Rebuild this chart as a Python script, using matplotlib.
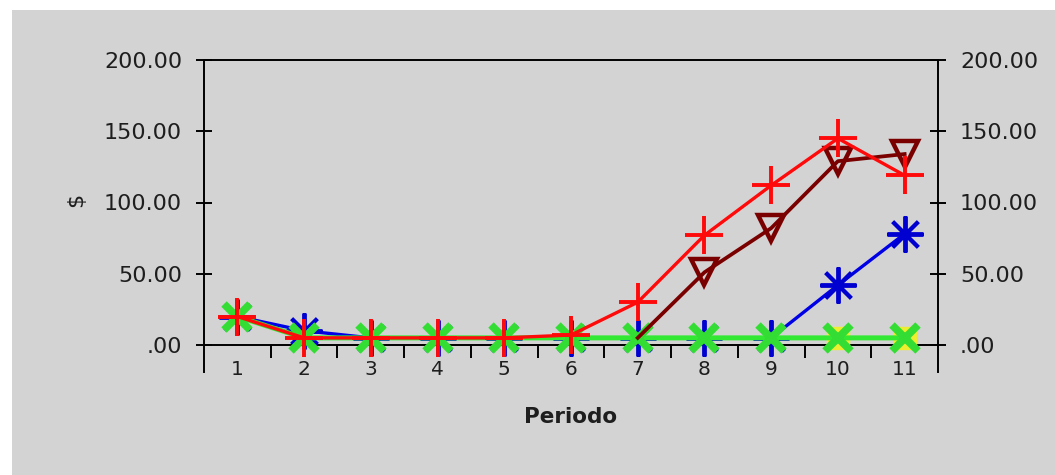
import numpy as np
import matplotlib
matplotlib.use("Agg")
import matplotlib.pyplot as plt
from matplotlib.patches import Rectangle

# ---- data ----
periods = [1, 2, 3, 4, 5, 6, 7, 8, 9, 10, 11]
serie_blue = [20, 10, 5, 5, 5, 5, 5, 5, 5, 42, 78]
serie_maroon = [np.nan, np.nan, np.nan, np.nan, np.nan, np.nan, 5, 51, 82, 129, 134]
serie_red = [20, 5, 5, 5, 5, 7, 30, 77, 112, 145, 119]
serie_lime = [20, 5, 5, 5, 5, 5, 5, 5, 5, 5, 5]
serie_yellow = [20, 5, 5, 5, 5, 5, 5, 5, 5, 5, 5]
y_ticks = [0, 50, 100, 150, 200]
y_tick_labels = [".00", "50.00", "100.00", "150.00", "200.00"]
x_label = "Periodo"
y_label = "$"

W, H = 1055, 475
bg = "#d3d3d3"
fig = plt.figure(figsize=(W / 100, H / 100), dpi=100, facecolor=bg)
# white strips at top and left
fig.patches.append(Rectangle((0, 1 - 10 / H), 1, 10 / H, transform=fig.transFigure,
                             facecolor="white", edgecolor="none", zorder=-10))
fig.patches.append(Rectangle((0, 0), 12 / W, 1, transform=fig.transFigure,
                             facecolor="white", edgecolor="none", zorder=-10))

left, right, top, bottom = 204, 938, 60, 345
ax = fig.add_axes([left / W, 1 - bottom / H, (right - left) / W, (bottom - top) / H])
ax.set_facecolor("none")
ax.set_xlim(0.5, 11.5)
ax.set_ylim(0, 200)

txt_color = "#1e1e1e"
font = "DejaVu Sans"

lw = 2.4
ax.plot(periods, serie_yellow, color="#eeee30", lw=lw, marker="s", ms=16,
        mec="#eeee30", mfc="#eeee30", markevery=[9, 10], clip_on=False, zorder=2)
ax.plot(periods, serie_blue, color="#0000e6", lw=lw, marker=(8, 2, 0), ms=26,
        mew=2.8, mec="#0000d0", clip_on=False, zorder=3)
ax.plot(periods, serie_lime, color="#33e833", lw=3.6, marker="x", ms=19,
        mew=5.5, mec="#33dd33", clip_on=False, zorder=4)
ax.plot(periods, serie_maroon, color="#7a0000", lw=lw + 0.3, marker="v", ms=19,
        mew=3.2, mec="#7a0000", fillstyle="none", markevery=[7, 8, 9, 10],
        clip_on=False, zorder=5)
ax.plot(periods, serie_red, color="#ff0a0a", lw=lw, marker="+", ms=27,
        mew=2.8, mec="#ff0a0a", clip_on=False, zorder=6)

# spines
for s in ax.spines.values():
    s.set_color("black")
    s.set_linewidth(1.4)
    s.set_zorder(1)

# x ticks: labels at integers, marks between categories
ax.set_xticks(periods)
ax.set_xticklabels([str(p) for p in periods])
ax.tick_params(axis="x", which="major", length=0, pad=11, labelsize=14.5,
               labelcolor=txt_color)
ax.set_xticks([p + 0.5 for p in periods[:-1]], minor=True)
ax.tick_params(axis="x", which="minor", direction="out", length=9.5, width=1.4,
               color="black")
for xe in (0.5, 11.5):
    ax.axvline(xe, ymin=-27 / 285, ymax=0, color="black", lw=1.4, clip_on=False)

# y ticks both sides
ax.set_yticks(y_ticks)
ax.set_yticklabels(y_tick_labels)
ax.tick_params(axis="y", which="major", direction="inout", length=11.5, width=1.4,
               left=True, right=True, labelleft=True, labelright=True,
               labelsize=16, labelcolor=txt_color, pad=10)
for lab in ax.get_xticklabels() + ax.get_yticklabels():
    lab.set_family(font)

fig.text(571 / W, 1 - 417 / H, x_label, ha="center", va="center",
         fontsize=15.5, fontweight="bold", color=txt_color, family=font)
fig.text(76 / W, 1 - 200 / H, y_label, ha="center", va="center", rotation=90,
         fontsize=16, color=txt_color, family=font)

fig.savefig("out.png", dpi=100, facecolor=fig.get_facecolor())
